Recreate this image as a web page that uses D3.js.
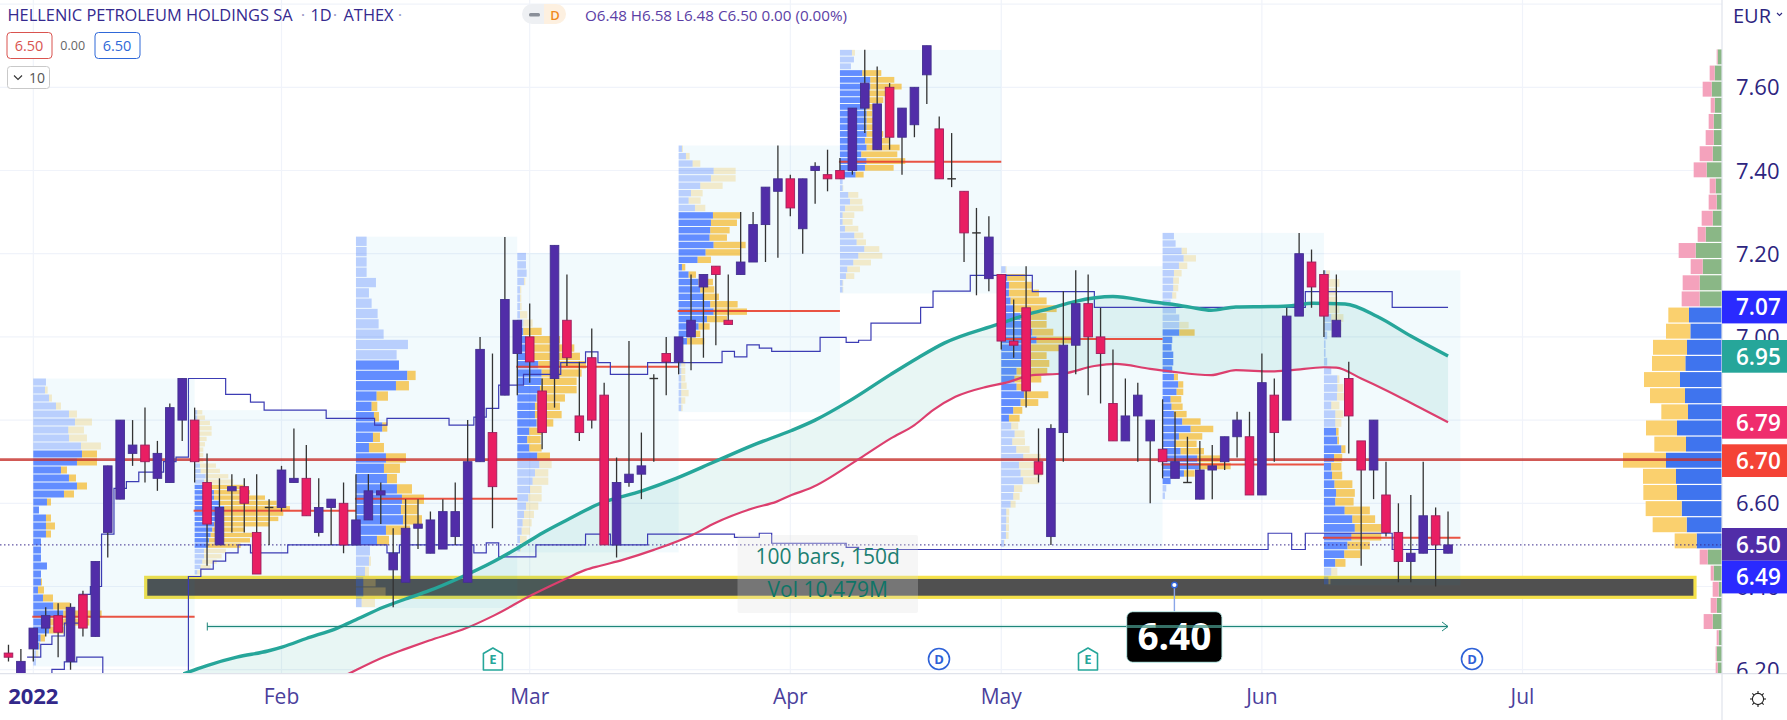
<!DOCTYPE html>
<html><head><meta charset="utf-8">
<script src="https://cdn.jsdelivr.net/npm/d3@7/dist/d3.min.js"></script>
<style>html,body{margin:0;padding:0;background:#fff}svg{display:block}text{font-family:"Open Sans",sans-serif}</style>
</head><body><div id="chart"></div>
<script>
// ---------- DATA ----------
const firstBar=-2;
const opens=[6.24,6.19,6.25,6.30,6.33,6.22,6.38,6.28,6.53,6.61,6.72,6.74,6.66,6.65,6.80,6.80,6.65,6.50,6.63,6.64,6.53,6.59,6.59,6.65,6.66,6.53,6.59,6.60,6.50,6.56,6.62,6.44,6.41,6.54,6.48,6.49,6.52,6.41,6.70,6.77,6.86,6.96,7.00,6.87,6.90,7.04,6.81,6.95,6.86,6.50,6.65,6.67,6.90,6.96,6.94,7.00,7.12,7.17,7.04,7.15,7.18,7.27,7.35,7.38,7.26,7.40,7.39,7.40,7.40,7.55,7.45,7.60,7.48,7.51,7.63,7.50,7.38,7.35,7.25,7.14,7.15,6.99,7.07,6.70,6.52,6.77,6.98,7.08,7.00,6.84,6.75,6.81,6.75,6.73,6.66,6.65,6.61,6.68,6.70,6.76,6.76,6.62,6.86,6.80,7.05,7.18,7.15,7.00,6.90,6.75,6.68,6.62,6.53,6.46,6.48,6.57,6.48];
const highs=[6.26,6.25,6.30,6.35,6.36,6.36,6.39,6.46,6.69,6.80,6.80,6.83,6.75,6.84,6.90,6.83,6.72,6.66,6.67,6.66,6.67,6.61,6.69,6.78,6.74,6.66,6.61,6.65,6.67,6.67,6.65,6.54,6.61,6.61,6.58,6.61,6.65,6.80,7.00,6.96,7.24,7.04,7.08,6.90,7.22,7.15,6.94,7.02,6.89,6.71,6.99,6.77,6.91,7.00,7.00,7.15,7.15,7.17,7.15,7.30,7.30,7.36,7.46,7.39,7.38,7.42,7.45,7.43,7.55,7.69,7.65,7.61,7.55,7.60,7.70,7.53,7.49,7.35,7.31,7.29,7.15,7.09,7.17,6.78,6.79,7.11,7.16,7.15,7.07,6.97,6.90,6.89,6.80,6.85,6.82,6.76,6.75,6.74,6.76,6.82,6.82,6.96,6.90,7.07,7.25,7.21,7.16,7.15,6.94,6.75,6.80,6.70,6.60,6.62,6.70,6.59,6.58];
const lows=[6.22,6.19,6.22,6.28,6.23,6.20,6.28,6.28,6.47,6.61,6.69,6.65,6.63,6.65,6.75,6.65,6.45,6.50,6.53,6.53,6.43,6.50,6.58,6.65,6.57,6.52,6.50,6.48,6.50,6.56,6.55,6.35,6.41,6.49,6.48,6.49,6.50,6.41,6.70,6.54,6.86,6.86,6.89,6.73,6.83,6.93,6.75,6.78,6.50,6.47,6.64,6.61,6.70,6.86,6.91,6.92,6.95,6.98,7.03,7.15,7.18,7.18,7.19,7.29,7.20,7.32,7.35,7.38,7.39,7.49,7.45,7.45,7.39,7.48,7.56,7.38,7.36,7.18,7.10,7.11,6.97,6.95,6.83,6.65,6.50,6.70,6.91,6.86,6.84,6.75,6.75,6.70,6.60,6.66,6.66,6.65,6.61,6.61,6.68,6.71,6.62,6.62,6.70,6.80,7.05,7.07,7.00,7.00,6.72,6.45,6.61,6.52,6.41,6.41,6.48,6.40,6.48];
const closes=[6.23,6.22,6.30,6.33,6.29,6.35,6.30,6.46,6.69,6.80,6.74,6.70,6.72,6.83,6.90,6.70,6.55,6.59,6.64,6.60,6.43,6.59,6.68,6.66,6.57,6.59,6.61,6.50,6.56,6.63,6.63,6.48,6.54,6.55,6.56,6.58,6.58,6.70,6.97,6.64,7.09,7.04,6.94,6.77,7.22,6.95,6.77,6.80,6.50,6.65,6.67,6.69,6.90,6.94,7.00,7.04,7.15,7.15,7.03,7.18,7.27,7.36,7.38,7.31,7.38,7.41,7.38,7.38,7.55,7.61,7.56,7.48,7.55,7.60,7.70,7.38,7.38,7.25,7.25,7.24,6.99,6.98,6.87,6.67,6.78,6.98,7.08,7.00,6.96,6.75,6.81,6.86,6.80,6.70,6.70,6.65,6.68,6.69,6.76,6.80,6.62,6.89,6.77,7.05,7.20,7.12,7.05,7.04,6.81,6.68,6.80,6.53,6.46,6.48,6.57,6.50,6.50];

const maTeal=[[12.1,6.19],[14,6.21],[16.4,6.23],[18.9,6.245],[20.1,6.255],[22,6.275],[24.5,6.30],[26,6.32],[28.2,6.35],[30,6.37],[31.9,6.39],[34.3,6.42],[37.1,6.46],[38.9,6.49],[41.1,6.53],[43,6.56],[45.7,6.60],[49.06,6.63],[51.8,6.66],[54.9,6.70],[58,6.74],[61.1,6.775],[63,6.80],[65.7,6.845],[69.1,6.91],[71.3,6.95],[73.4,6.985],[77.7,7.03],[80.2,7.055],[81.9,7.068],[83.9,7.085],[87,7.097],[90,7.085],[91.6,7.079],[93.3,7.071],[94.9,7.064],[96.9,7.072],[99.8,7.073],[101.4,7.075],[103.1,7.081],[105.7,7.079],[108.3,7.049],[111,7.002],[114,6.954]];
const maPink=[[12.1,5.97],[25.4,6.19],[28.2,6.23],[30,6.25],[31.9,6.27],[34.9,6.30],[37.1,6.33],[40.2,6.38],[43,6.42],[44.5,6.44],[45.7,6.45],[47.5,6.464],[50,6.488],[53.1,6.524],[54.9,6.552],[58,6.588],[59.9,6.604],[61.1,6.62],[62.6,6.636],[66.6,6.708],[69.1,6.756],[71,6.788],[72.5,6.824],[74.3,6.856],[76.8,6.88],[78.4,6.89],[80.5,6.908],[83,6.912],[85.5,6.93],[87.2,6.935],[90,6.923],[91.6,6.917],[94.9,6.908],[96.9,6.92],[99.8,6.917],[101.4,6.92],[104,6.927],[105,6.926],[107,6.90],[109,6.872],[111.6,6.832],[114,6.795]];

const stepA=[[1.5,6.10],[1.5,6.201],[2.5,6.219],[3.5,6.23],[5.6,6.10]];
const stepB=[[-0.5,6.23],[0.6,6.261],[1.5,6.281],[2.5,6.312],[3.7,6.381],[4.6,6.40],[5.5,6.526],[6.5,6.636],[7.5,6.652],[8.5,6.675],[10.5,6.70],[11.5,6.711],[12.5,6.90],[15.5,6.862],[17.5,6.843],[18.6,6.824],[23.6,6.804],[27.5,6.788],[28.5,6.804],[33.5,6.788],[35.5,6.807],[36.5,6.828],[37.5,6.884],[39.5,6.91],[42.5,6.938],[44.5,6.964],[45.5,6.938],[46.5,6.91],[49.5,6.938],[55.5,6.965],[56.5,6.952],[57.5,6.981],[58.5,6.973],[59.5,6.965],[63.4,6.999],[65.5,6.987],[66.5,6.992],[67.5,7.033],[71.5,7.071],[72.5,7.11],[75.5,7.148],[80.5,7.109],[85.5,7.071],[102.5,7.109],[109.5,7.071],[114,7.071]];
const stepC=[[12.5,6.10],[12.5,6.424],[13.5,6.442],[14.5,6.461],[15.5,6.481],[16.5,6.50],[17.5,6.481],[20.5,6.50],[28.5,6.481],[29.5,6.50],[35.5,6.481],[36.5,6.505],[37.5,6.471],[40.5,6.50],[44.5,6.526],[46.5,6.50],[49.5,6.526],[56.5,6.518],[58.5,6.528],[59.5,6.504],[65.5,6.494],[66.5,6.489],[99.5,6.528],[101.4,6.489],[102.5,6.528],[109.5,6.489],[114,6.489]];

// session volume profiles: start bar, end bar, top price, row size, value-area rows, POC
const profStart=[0,13,26,39,52,65,78,91,104];
const profEnd=[13,26,39,52,65,78,91,104,115];
const profTop=[6.90,6.824,7.241,7.202,7.46,7.69,7.17,7.25,7.16];
const profRow=[0.01923,0.01282,0.0248,0.0200,0.0178,0.01627,0.0188,0.01783,0.02103];
const profVAFrom=[9,14,12,9,9,3,1,13,18];
const profVATo=[33,25,29,24,26,18,19,33,33];
const profPOC=[6.327,6.582,6.611,6.928,7.062,7.421,6.995,6.693,6.517];
const up0=[38,35,47,68,107,125,105,107,143,146,131,83,107,131,92,41,17,38,38,38,23,23,23,41,23,23,14,29,60,90,50,47,22,18,8,8];
const dn0=[0,8,9,15,24,51,47,54,60,45,60,18,21,30,30,12,0,15,27,15,0,0,0,0,0,3,18,30,50,115,118,48,13,2,7,0];
const up1=[8,8,8,8,8,8,8,8,8,8,16,18,33,28,48,58,58,73,88,78,68,58,53,48,43,40,28,28,23,18,8];
const dn1=[15,23,38,43,43,28,23,18,18,18,48,58,68,88,98,108,153,173,198,188,183,166,98,126,123,98,66,53,43,30,13];
const up2=[32,32,32,32,60,39,47,65,68,83,156,122,129,154,120,62,47,54,79,51,39,90,84,93,123,138,135,141,90,63,42,39,27,22,22,17];
const dn2=[0,0,0,0,0,0,0,0,0,0,0,0,0,25,39,34,17,15,15,21,45,60,48,30,45,66,51,57,72,36,0,6,12,37,67,40];
const up3=[26,26,28,20,8,8,8,8,18,18,28,40,38,63,73,73,68,58,53,53,58,36,30,36,60,66,53,46,38,33,26,20,16,13,8,8];
const dn3=[0,0,0,4,4,4,5,22,28,55,100,131,150,143,120,105,110,85,75,80,50,37,40,37,38,37,40,47,35,40,37,30,27,25,20,2];
const up4=[10,22,42,105,97,65,37,30,49,103,97,95,93,105,81,57,10,30,60,65,75,95,105,85,60,50,25,5,5,8,8,8,8,8,8,8];
const dn4=[3,11,23,66,74,67,35,36,31,84,78,58,52,96,106,40,10,22,43,42,46,82,100,60,33,15,52,5,5,12,12,12,16,22,12,4];
const up5=[36,42,33,67,91,91,80,80,80,80,80,80,80,75,80,64,80,75,47,8,8,25,30,15,8,8,15,43,50,73,55,40,22,18,8,8];
const dn5=[9,0,0,57,72,94,66,50,28,17,44,33,50,72,99,108,116,86,24,0,2,30,37,55,35,30,40,27,28,45,72,53,38,25,2,2];
const up6=[13,18,23,23,28,38,58,68,93,106,86,68,63,46,40,46,68,58,36,23,30,40,33,45,66,53,58,66,38,36,28,15,15,14,14,8];
const dn6=[3,53,71,90,108,128,78,68,63,108,92,68,81,92,80,42,73,53,27,32,21,30,38,40,52,55,65,47,25,19,15,9,8,9,8,2];
const up7=[34,39,57,63,49,34,32,32,29,24,40,50,50,50,29,27,32,32,29,34,47,42,24,27,34,59,84,49,39,54,104,111,64,24,11,7];
const dn7=[0,0,16,37,25,23,17,15,12,0,0,0,28,46,0,0,0,0,0,12,15,20,32,33,38,55,68,70,63,70,70,93,32,0,0,0];
const up8=[5,8,10,8,13,18,18,8,4,4,8,18,33,33,32,18,28,28,30,33,43,25,18,20,26,30,28,51,70,76,68,58,50,28,18,11];
const dn8=[10,30,21,25,25,30,25,0,0,0,0,0,5,15,25,20,20,15,6,4,10,20,25,25,44,46,45,62,56,65,73,55,40,25,15,5];
const profUps=[up0,up1,up2,up3,up4,up5,up6,up7,up8];
const profDowns=[dn0,dn1,dn2,dn3,dn4,dn5,dn6,dn7,dn8];
const profUnit=[1,1,1,1,1,1,1,1,1.2186];

// fixed-range volume profile at the right edge
const fixedTop=7.691, fixedRow=0.03878, fixedVAFrom=16, fixedVATo=30;
const fixedUp=[13,22,31,22,25,25,28,46,19,16,28,49,79,58,67,67,99,95,105,110,126,111,102,135,108,168,138,135,121,106,76,43,25,10,16,28,10,16,13];
const fixedDown=[3,15,27,12,15,24,39,39,18,24,33,24,51,36,51,54,62,73,102,100,108,105,80,93,95,129,99,101,108,102,66,24,9,18,18,27,6,3,6];

const gridPrices=[7.8,7.6,7.4,7.2,7.0,6.8,6.6,6.4,6.2];
const tickPrices=[7.6,7.4,7.2,7.0,6.8,6.6,6.4,6.2];
const monthBars=[0,20,40,61,78,99,120];
const monthLabels=["2022","Feb","Mar","Apr","May","Jun","Jul"];
const pocAll=6.705, lastPrice=6.50;
const priceTags=[["7.07","#2a2aff"],["6.95","#26a69a"],["6.79","#ef2d6d"],["6.70","#f44336"],["6.50","#512da8"],["6.49","#2a2aff"]];
const tagTops=[290.7,340,406,444.3,528,560.7];
const eventMarks=[["E","#26a69a"],["D","#2f62d8"],["E","#26a69a"],["D","#2f62d8"]];
const eventX=[492.9,939,1088,1472];
const zoneLow=6.374, zoneHigh=6.422;

// ---------- SCALES ----------
const W=1787,H=720,AX=1722,AY=673.7;
const x=d3.scaleLinear().domain([0,120]).range([33.3,33.3+12.41*120]);
const y=d3.scaleLinear().domain([7.6,6.2]).range([87.3,669.7]);
const vol=d3.scaleLinear().domain([0,300]).range([0,100]);
const svg=d3.select("#chart").append("svg").attr("width",W).attr("height",H);
const defs=svg.append("defs");
defs.append("clipPath").attr("id","plot").append("rect").attr("width",AX).attr("height",AY);
defs.append("clipPath").attr("id","axisCol").append("rect").attr("x",AX).attr("width",W-AX).attr("height",AY);
const plot=svg.append("g").attr("clip-path","url(#plot)");
const ink="#2d2580";

// grid
plot.selectAll(".gh").data(gridPrices).join("line").attr("x1",0).attr("x2",AX)
  .attr("y1",d=>y(d)).attr("y2",d=>y(d)).attr("stroke","#f0f3fa").attr("stroke-width",1.2);
plot.selectAll(".gv").data(monthBars).join("line").attr("y1",0).attr("y2",AY)
  .attr("x1",d=>x(d)).attr("x2",d=>x(d)).attr("stroke","#f0f3fa").attr("stroke-width",1.2);

// zone rectangle
plot.append("rect").attr("x",145.7).attr("width",1549.3).attr("y",y(zoneHigh)).attr("height",y(zoneLow)-y(zoneHigh))
  .attr("fill","#505050").attr("stroke","#f5e14a").attr("stroke-width",3.2);

// session profiles
profStart.forEach((s,k)=>{
  const g=plot.append("g");
  const ups=profUps[k],dns=profDowns[k];
  const x0=x(s),x1=x(profEnd[k]);
  const rowPx=y(6)-y(6+profRow[k]);
  const rowY=j=>y(profTop[k])+j*rowPx;
  const rows=ups.length;
  g.append("rect").attr("x",x0).attr("width",x1-x0).attr("y",rowY(0))
    .attr("height",(rows+(k===1?0.5:0))*rowPx).attr("fill","rgba(0,150,220,0.05)");
  const va=j=>j>=profVAFrom[k]&&j<=profVATo[k];
  const u=profUnit[k];
  ups.forEach((v,j)=>{
    g.append("rect").attr("x",x0).attr("y",rowY(j)).attr("width",vol(v*u)).attr("height",rowPx-1)
      .attr("fill",va(j)?"rgba(41,98,255,0.72)":"rgba(41,98,255,0.28)");
    g.append("rect").attr("x",x0+vol(v*u)).attr("y",rowY(j)).attr("width",vol(dns[j]*u)).attr("height",rowPx-1)
      .attr("fill",va(j)?"rgba(245,180,30,0.68)":"rgba(240,200,90,0.3)");
  });
});

// MA band
const xs=d3.merge([maTeal.map(d=>d[0]),maPink.map(d=>d[0])]).sort(d3.ascending).filter(d=>d>=12.1);
const interp=(arr,v)=>{const b=d3.bisector(d=>d[0]).left(arr,v);if(b<=0)return arr[0][1];if(b>=arr.length)return arr[arr.length-1][1];const a=arr[b-1],c=arr[b];return a[1]+(c[1]-a[1])*(v-a[0])/(c[0]-a[0]);};
plot.append("path").datum(xs).attr("fill","rgba(38,166,154,0.105)")
  .attr("d",d3.area().x(d=>x(d)).y0(d=>y(interp(maPink,d))).y1(d=>y(interp(maTeal,d))));

// session POC lines
plot.selectAll(".poc").data(profPOC).join("line").attr("x1",(d,k)=>x(profStart[k])-1).attr("x2",(d,k)=>x(profEnd[k]))
  .attr("y1",d=>y(d)).attr("y2",d=>y(d)).attr("stroke","#e8402f").attr("stroke-opacity",.9).attr("stroke-width",2);

// fixed-range profile
const fixedPx=y(6)-y(6+fixedRow);
const fixedG=plot.append("g");
const fixedVA=j=>j>=fixedVAFrom&&j<=fixedVATo;
fixedUp.forEach((v,j)=>{
  const ry=y(fixedTop)+j*fixedPx;
  fixedG.append("rect").attr("x",AX-vol(v)).attr("width",vol(v)).attr("y",ry).attr("height",fixedPx-1.2)
    .attr("fill",fixedVA(j)?"#3f74ee":"#8ab786");
  fixedG.append("rect").attr("x",AX-vol(v)-vol(fixedDown[j])).attr("width",vol(fixedDown[j])).attr("y",ry).attr("height",fixedPx-1.2)
    .attr("fill",fixedVA(j)?"#fad06e":"#f4a2bc");
});

// all-range POC and last price line
plot.append("line").attr("x1",0).attr("x2",AX).attr("y1",y(pocAll)).attr("y2",y(pocAll))
  .attr("stroke","#c62f2a").attr("stroke-opacity",.8).attr("stroke-width",2.6);
plot.append("line").attr("x1",0).attr("x2",AX).attr("y1",y(lastPrice)).attr("y2",y(lastPrice))
  .attr("stroke","#3a2a8c").attr("stroke-width",1).attr("stroke-dasharray","1.5 2.5");

// step lines
const stepLine=d3.line().x(d=>x(d[0])).y(d=>y(d[1])).curve(d3.curveStepAfter);
[stepA,stepB,stepC].forEach(s=>plot.append("path").attr("d",stepLine(s)).attr("fill","none").attr("stroke","#3c3cb4").attr("stroke-width",1.2));

// moving averages
const maLine=d3.line().x(d=>x(d[0])).y(d=>y(d[1])).curve(d3.curveMonotoneX);
plot.append("path").attr("d",maLine(maPink)).attr("fill","none").attr("stroke","#dc3f6e").attr("stroke-width",2.2);
plot.append("path").attr("d",maLine(maTeal)).attr("fill","none").attr("stroke","#26a69a").attr("stroke-width",3.4);

// candles
const bw=8.6;
const bars=opens.map((o,n)=>({i:firstBar+n,o,h:highs[n],l:lows[n],c:closes[n]}));
const cg=plot.append("g");
cg.selectAll(".w").data(bars).join("line").attr("x1",d=>x(d.i)).attr("x2",d=>x(d.i))
  .attr("y1",d=>y(d.h)).attr("y2",d=>y(d.l)).attr("stroke","#333").attr("stroke-width",1.3);
cg.selectAll(".b").data(bars.filter(d=>d.o!==d.c)).join("rect")
  .attr("x",d=>x(d.i)-bw/2).attr("width",bw)
  .attr("y",d=>y(Math.max(d.o,d.c))).attr("height",d=>Math.abs(y(d.o)-y(d.c)))
  .attr("fill",d=>d.c>d.o?"#512da8":"#e91e63")
  .attr("stroke",d=>d.c>d.o?"#43308f":"#9c1f5e").attr("stroke-width",.9);
cg.selectAll(".dj").data(bars.filter(d=>d.o===d.c)).join("line")
  .attr("x1",d=>x(d.i)-bw/2).attr("x2",d=>x(d.i)+bw/2).attr("y1",d=>y(d.c)).attr("y2",d=>y(d.c))
  .attr("stroke","#333").attr("stroke-width",1.4);

// measure tool
const my=626.5;
plot.append("line").attr("x1",207.3).attr("x2",1448).attr("y1",my).attr("y2",my).attr("stroke","rgba(38,166,154,.18)").attr("stroke-width",3.5);
plot.append("line").attr("x1",207.3).attr("x2",1448).attr("y1",my).attr("y2",my).attr("stroke","#1f857a").attr("stroke-width",1);
plot.append("line").attr("x1",207.3).attr("x2",207.3).attr("y1",my-4).attr("y2",my+4).attr("stroke","#1f857a").attr("stroke-width",1);
plot.append("path").attr("d",`M${1442},${my-4.5}L${1448},${my}L${1442},${my+4.5}`).attr("fill","none").attr("stroke","#1f857a").attr("stroke-width",1);
plot.append("rect").attr("x",737.5).attr("y",535).attr("width",180.5).attr("height",78).attr("rx",2).attr("fill","rgba(222,222,222,.27)");
plot.append("text").attr("x",827.7).attr("y",564).attr("text-anchor","middle").attr("font-size",21).attr("fill","#1c7f72").text("100 bars, 150d");
plot.append("text").attr("x",827.7).attr("y",597).attr("text-anchor","middle").attr("font-size",21).attr("fill","#0f7466").text("Vol 10.479M");

// callout
plot.append("line").attr("x1",1174.4).attr("x2",1174.4).attr("y1",585).attr("y2",612).attr("stroke","#8aa6e8").attr("stroke-width",1.4);
plot.append("circle").attr("cx",1174.4).attr("cy",585).attr("r",2.8).attr("fill","#fff").attr("stroke","#2f62d8").attr("stroke-width",1.4);
plot.append("rect").attr("x",1126.7).attr("y",611.7).attr("width",95.3).attr("height",50.6).attr("rx",6).attr("fill","#000").attr("stroke","#bff0ec").attr("stroke-width",1);
plot.append("text").attr("x",1174.4).attr("y",650).attr("text-anchor","middle").attr("font-size",37).attr("font-weight",700).attr("fill","#fff").text("6.40");
plot.append("line").attr("x1",1126.7).attr("x2",1222).attr("y1",my).attr("y2",my).attr("stroke","rgba(70,150,135,.75)").attr("stroke-width",3);

// event marks
eventMarks.forEach((m,k)=>{
  const cx=eventX[k],cy=659;
  const g=plot.append("g");
  if(m[0]==="E"){
    g.append("path").attr("d",`M${cx-9.5},${cy-5.5}L${cx},${cy-11}L${cx+9.5},${cy-5.5}V${cy+11}H${cx-9.5}Z`).attr("fill","#fff").attr("stroke",m[1]).attr("stroke-width",1.6).attr("stroke-linejoin","round");
  } else {
    g.append("circle").attr("cx",cx).attr("cy",cy).attr("r",10.5).attr("fill","#fff").attr("stroke",m[1]).attr("stroke-width",1.6);
  }
  g.append("text").attr("x",cx).attr("y",cy+5).attr("text-anchor","middle").attr("font-size",13).attr("font-weight",700).attr("fill",m[1]).text(m[0]);
});

// axes frame
svg.append("line").attr("x1",0).attr("x2",W).attr("y1",AY).attr("y2",AY).attr("stroke","#e0e3eb").attr("stroke-width",1.2);
svg.append("line").attr("x1",AX).attr("x2",AX).attr("y1",0).attr("y2",H).attr("stroke","#e0e3eb").attr("stroke-width",1.2);

// price axis
const col=svg.append("g").attr("clip-path","url(#axisCol)");
col.selectAll(".t").data(tickPrices).join("text").attr("x",1736).attr("y",d=>y(d)+8)
  .attr("font-size",22).attr("fill",ink).text(d=>d.toFixed(2));
priceTags.forEach((t,k)=>{
  col.append("rect").attr("x",AX).attr("y",tagTops[k]).attr("width",W-AX).attr("height",32.7).attr("fill",t[1]);
  col.append("text").attr("x",1736).attr("y",tagTops[k]+24.5).attr("font-size",22.5).attr("font-weight",600).attr("fill","#fff").text(t[0]);
});
svg.append("text").attr("x",1733).attr("y",23).attr("font-size",20).attr("fill",ink).text("EUR");
svg.append("path").attr("d","M1777,13l2.5,2.5l2.5,-2.5").attr("fill","none").attr("stroke",ink).attr("stroke-width",1.1);

// time axis
svg.selectAll(".m").data(monthBars).join("text").attr("x",d=>x(d)).attr("y",704).attr("text-anchor","middle")
  .attr("font-size",(d,k)=>k===0?22:21).attr("font-weight",(d,k)=>k===0?700:400).attr("fill",(d,k)=>k===0?"#33288a":"#4b3f9c").text((d,k)=>monthLabels[k]);

// sun icon
const sun=svg.append("g").attr("transform","translate(1758,699)");
sun.append("circle").attr("r",5.6).attr("fill","none").attr("stroke","#222").attr("stroke-width",1.1);
d3.range(8).forEach(a=>{const t=a*Math.PI/4;sun.append("line").attr("x1",Math.cos(t)*5.6).attr("y1",Math.sin(t)*5.6).attr("x2",Math.cos(t)*8).attr("y2",Math.sin(t)*8).attr("stroke","#222").attr("stroke-width",1.1);});

// header
const hdr=svg.append("g");
hdr.append("text").attr("x",7.5).attr("y",21).attr("font-size",16.4).attr("fill","#352a8f").text("HELLENIC PETROLEUM HOLDINGS SA");
hdr.append("text").attr("x",303).attr("y",21).attr("text-anchor","middle").attr("font-size",17).attr("fill","#9a96c4").text("·");
hdr.append("text").attr("x",310.5).attr("y",21).attr("font-size",16.4).attr("fill","#352a8f").text("1D");
hdr.append("text").attr("x",335).attr("y",21).attr("text-anchor","middle").attr("font-size",17).attr("fill","#9a96c4").text("·");
hdr.append("text").attr("x",343.5).attr("y",21).attr("font-size",16.4).attr("fill","#352a8f").text("ATHEX");
hdr.append("text").attr("x",400).attr("y",21).attr("text-anchor","middle").attr("font-size",17).attr("fill","#9a96c4").text("·");
hdr.append("path").attr("d","M532,4h12v20h-12a10,10 0 0 1 0,-20z").attr("fill","#eef0f3");
hdr.append("path").attr("d","M544,4h12a10,10 0 0 1 0,20h-12z").attr("fill","#fdf0e0");
hdr.append("rect").attr("x",529).attr("y",13).attr("width",11).attr("height",3.4).attr("rx",1.5).attr("fill","#8a8f99");
hdr.append("text").attr("x",555).attr("y",20).attr("text-anchor","middle").attr("font-size",13).attr("font-weight",600).attr("fill","#f08a1d").text("D");
hdr.append("text").attr("x",585).attr("y",21).attr("font-size",15.2).attr("fill","#5b3ea5").text("O6.48  H6.58  L6.48  C6.50  0.00 (0.00%)");
hdr.append("rect").attr("x",7).attr("y",32.5).attr("width",45).attr("height",26).attr("rx",3.5).attr("fill","#fff").attr("stroke","#d9534f").attr("stroke-width",1);
hdr.append("text").attr("x",29).attr("y",51).attr("text-anchor","middle").attr("font-size",14.5).attr("fill","#d9534f").text("6.50");
hdr.append("text").attr("x",72.7).attr("y",50).attr("text-anchor","middle").attr("font-size",12.5).attr("fill","#666").text("0.00");
hdr.append("rect").attr("x",95).attr("y",32.5).attr("width",45).attr("height",26).attr("rx",3.5).attr("fill","#fff").attr("stroke","#2f68d8").attr("stroke-width",1);
hdr.append("text").attr("x",117).attr("y",51).attr("text-anchor","middle").attr("font-size",14.5).attr("fill","#2f68d8").text("6.50");
hdr.append("rect").attr("x",7.5).attr("y",66.5).attr("width",42).attr("height",22).attr("rx",3).attr("fill","#fff").attr("stroke","#c9c9c9").attr("stroke-width",1);
hdr.append("path").attr("d","M14,75.5l4,4l4,-4").attr("fill","none").attr("stroke","#333").attr("stroke-width",1.1);
hdr.append("text").attr("x",37).attr("y",83).attr("text-anchor","middle").attr("font-size",14).attr("fill","#555").text("10");
</script></body></html>
